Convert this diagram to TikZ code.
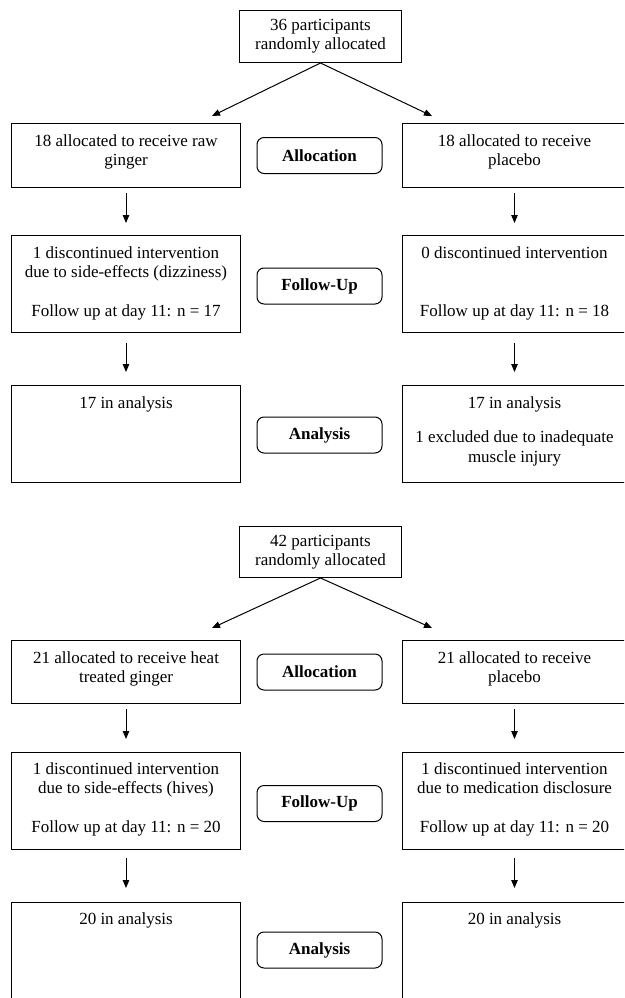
\documentclass[tikz,border=0pt]{standalone}
\usepackage{fontspec}
\setmainfont{Liberation Serif}
\usetikzlibrary{arrows.meta}
\newcommand{\btxt}[4]{\parbox[c][#2][t]{#1}{\centering\vspace*{#3}#4\par}}
\begin{document}
\begin{tikzpicture}[x=1pt,y=-1pt,
  every node/.style={font=\fontsize{17}{19.5}\selectfont},
  box/.style={draw, line width=1pt, inner sep=0pt, anchor=north west},
  stage/.style={draw, line width=1pt, rounded corners=7pt, inner sep=0pt,
    minimum width=125pt, minimum height=36pt, font=\fontsize{17}{19.5}\selectfont\bfseries},
  arr/.style={line width=1pt, -{Triangle[length=8pt,width=6.5pt]}}]
\useasboundingbox (0,0) rectangle (624,998);
\clip (0,0) rectangle (624,998);

% ---------- panel 1 ----------
\node[box] (t1) at (239,10) {\btxt{162pt}{52pt}{8.4pt}{36 participants\\randomly allocated}};
\node[box] (a1l) at (11,123) {\btxt{229pt}{64pt}{11pt}{18 allocated to receive raw\\ginger}};
\node[box] (a1r) at (402,123) {\btxt{224pt}{64pt}{11pt}{18 allocated to receive\\placebo}};
\node[stage] (s1) at (319.5,155.5) {Allocation};
\node[box] (f1l) at (11,235) {\btxt{229pt}{97pt}{11pt}{1 discontinued intervention\\due to side-effects (dizziness)\\[19.5pt]Follow up at day 11: n = 17}};
\node[box] (f1r) at (402,235) {\btxt{224pt}{97pt}{11pt}{0 discontinued intervention\\[39pt]Follow up at day 11: n = 18}};
\node[stage] (s2) at (319.5,286) {Follow-Up};
\node[box] (n1l) at (11,385) {\btxt{229pt}{97pt}{11pt}{17 in analysis}};
\node[box] (n1r) at (402,385) {\btxt{224pt}{97pt}{11pt}{17 in analysis\\[15pt]1 excluded due to inadequate\\muscle injury}};
\node[stage] (s3) at (319.5,435) {Analysis};

\coordinate (c1l) at (212,116);
\coordinate (c1r) at (432,116);
\draw[arr] (t1.south) -- (c1l);
\draw[arr] (t1.south) -- (c1r);
\draw[arr] ([yshift=-5pt]a1l.south) -- ([yshift=12pt]f1l.north);
\draw[arr] ([yshift=-5pt]a1r.south) -- ([yshift=12pt]f1r.north);
\draw[arr] ([yshift=-10pt]f1l.south) -- ([yshift=13pt]n1l.north);
\draw[arr] ([yshift=-10pt]f1r.south) -- ([yshift=13pt]n1r.north);

% ---------- panel 2 ----------
\node[box] (t2) at (239,526) {\btxt{162pt}{51pt}{8.4pt}{42 participants\\randomly allocated}};
\node[box] (a2l) at (11,640) {\btxt{229pt}{63pt}{11pt}{21 allocated to receive heat\\treated ginger}};
\node[box] (a2r) at (402,640) {\btxt{224pt}{63pt}{11pt}{21 allocated to receive\\placebo}};
\node[stage] (s4) at (319.5,672) {Allocation};
\node[box] (f2l) at (11,752) {\btxt{229pt}{97pt}{10pt}{1 discontinued intervention\\due to side-effects (hives)\\[19.5pt]Follow up at day 11: n = 20}};
\node[box] (f2r) at (402,752) {\btxt{224pt}{97pt}{10pt}{1 discontinued intervention\\due to medication disclosure\\[19.5pt]Follow up at day 11: n = 20}};
\node[stage] (s5) at (319.5,803.5) {Follow-Up};
\node[box] (n2l) at (11,902) {\btxt{229pt}{120pt}{10pt}{20 in analysis}};
\node[box] (n2r) at (402,902) {\btxt{224pt}{120pt}{10pt}{20 in analysis}};
\node[stage] (s6) at (319.5,950) {Analysis};

\coordinate (c2l) at (212,628);
\coordinate (c2r) at (432,628);
\draw[arr] (t2.south) -- (c2l);
\draw[arr] (t2.south) -- (c2r);
\draw[arr] ([yshift=-5pt]a2l.south) -- ([yshift=13pt]f2l.north);
\draw[arr] ([yshift=-5pt]a2r.south) -- ([yshift=13pt]f2r.north);
\draw[arr] ([yshift=-8pt]f2l.south) -- ([yshift=14pt]n2l.north);
\draw[arr] ([yshift=-8pt]f2r.south) -- ([yshift=14pt]n2r.north);
\end{tikzpicture}
\end{document}
